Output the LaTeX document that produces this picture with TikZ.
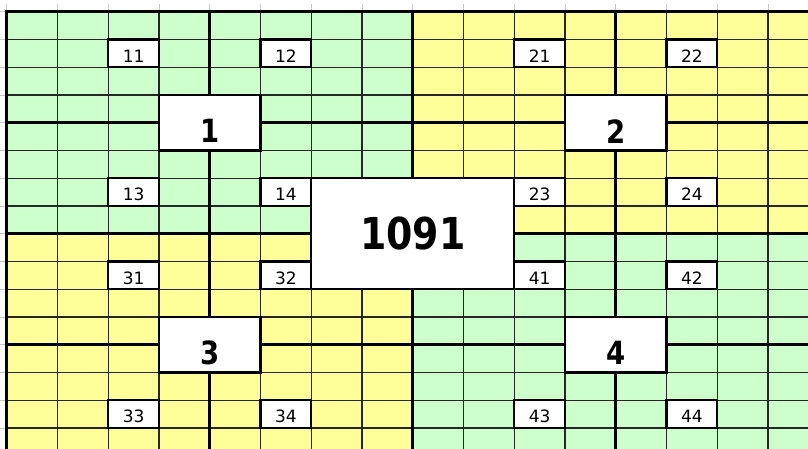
\documentclass[tikz,border=0pt]{standalone}
\usepackage{fontspec}
\setmainfont{DejaVu Sans}
\newfontfamily\bigf[FakeStretch=0.86]{DejaVu Sans}
\definecolor{cgreen}{HTML}{CCFFCC}
\definecolor{cyellow}{HTML}{FFFF99}
\definecolor{tick}{HTML}{C8C8C8}
\tikzset{
  thin grid/.style={line width=1.3pt, draw=black!85},
  thick grid/.style={line width=2.6pt, draw=black},
  smallbox/.style={draw=black, line width=2.4pt, fill=white, minimum width=50.75pt, minimum height=27.75pt, inner sep=0pt},
  bigbox/.style={draw=black, line width=2.4pt, fill=white, minimum width=101.5pt, minimum height=55.5pt, inner sep=0pt},
  hugebox/.style={draw=black, line width=2.4pt, fill=white, minimum width=203pt, minimum height=111pt, inner sep=0pt},
  smalltxt/.style={inner sep=0pt, font=\fontsize{17}{17}\selectfont},
  bigtxt/.style={inner sep=0pt, font=\bigf\bfseries\fontsize{32}{32}\selectfont},
  hugetxt/.style={inner sep=0pt, font=\bigf\bfseries\fontsize{44}{44}\selectfont},
}
\begin{document}
\begin{tikzpicture}[x=50.75pt, y=-27.75pt]
\useasboundingbox (-0.132,-0.4216) rectangle (15.789,15.723);
\fill[white] (-0.132,-0.4216) rectangle (15.789,15.723);
\begin{scope}
\clip (-0.132,-0.4216) rectangle (15.789,15.723);
% header ticks
\foreach \c in {0,...,16} \draw[tick, line width=0.8pt] (\c,-0.26) -- (\c,0);
\foreach \r in {0,...,16} \draw[tick, line width=0.8pt] (-0.132,\r) -- (0,\r);
% quadrant fills
\fill[cgreen] (0,0) rectangle (8,8);
\fill[cyellow] (8,0) rectangle (17,8);
\fill[cyellow] (0,8) rectangle (8,17);
\fill[cgreen] (8,8) rectangle (17,17);
% thin grid
\foreach \c in {1,...,16} \draw[thin grid] (\c,0) -- (\c,17);
\foreach \r in {1,...,16} \draw[thin grid] (0,\r) -- (17,\r);
% thick lines
\foreach \c in {4,8,12} \draw[thick grid] (\c,0) -- (\c,17);
\foreach \r in {4,8,12} \draw[thick grid] (0,\r) -- (17,\r);
\draw[thick grid] (0,17) -- (0,0) -- (17,0);
% small boxes
\foreach \q/\dx/\dy in {1/0/0, 2/8/0, 3/0/8, 4/8/8}{
  \node[smallbox] (b\q1) at (2.5+\dx,1.5+\dy) {};
  \node[smalltxt] at ([yshift=-2.5pt]b\q1.center) {\q1};
  \node[smallbox] (b\q2) at (5.5+\dx,1.5+\dy) {};
  \node[smalltxt] at ([yshift=-2.5pt]b\q2.center) {\q2};
  \node[smallbox] (b\q3) at (2.5+\dx,6.5+\dy) {};
  \node[smalltxt] at ([yshift=-2.5pt]b\q3.center) {\q3};
  \node[smallbox] (b\q4) at (5.5+\dx,6.5+\dy) {};
  \node[smalltxt] at ([yshift=-2.5pt]b\q4.center) {\q4};
  \node[bigbox] (q\q) at (4+\dx,4+\dy) {};
  \node[bigtxt] at ([yshift=-8.5pt]q\q.center) {\q};
}
% centre box
\node[hugebox] (mid) at (8,8) {};
\node[hugetxt] at (mid.center) {1091};
\end{scope}
\end{tikzpicture}
\end{document}
